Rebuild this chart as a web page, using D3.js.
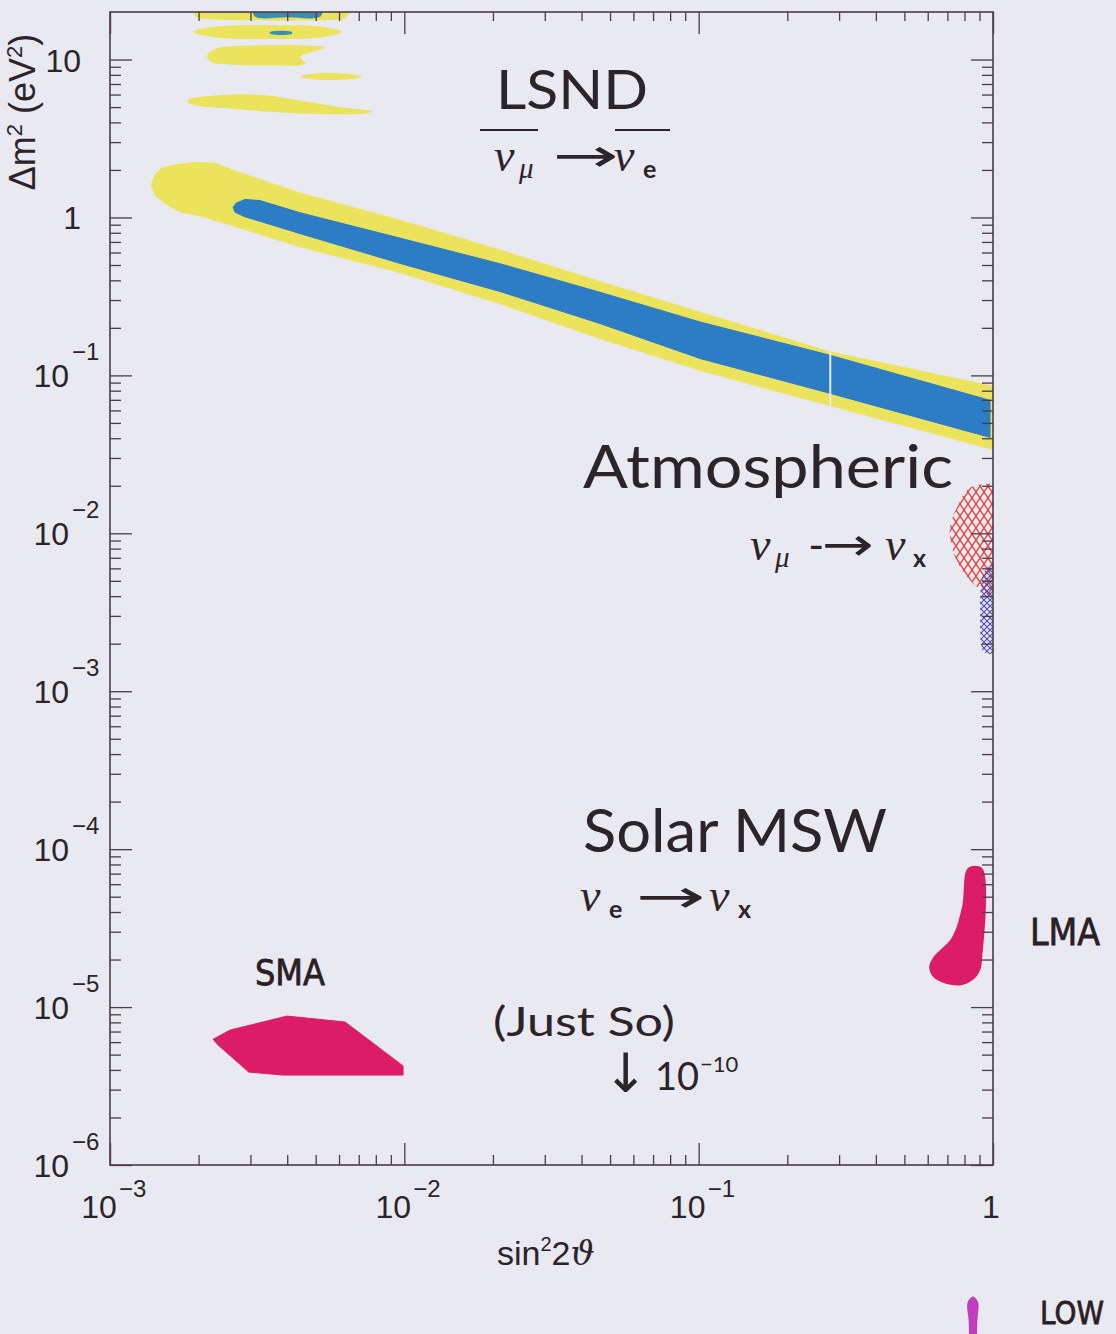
<!DOCTYPE html>
<html>
<head>
<meta charset="utf-8">
<script src="https://cdn.jsdelivr.net/npm/d3@7"></script>
<style>
body { margin: 0; background: #e9e9f1; }
</style>
</head>
<body>
<svg id="chart" width="1116" height="1334"></svg>
<script>
// ---- axis ticks ----
var xMajor = [1e-3, 1e-2, 1e-1, 1];
var xLabels = [["10", "\u22123"], ["10", "\u22122"], ["10", "\u22121"], ["1", ""]];
var yMajor = [1e-6, 1e-5, 1e-4, 1e-3, 1e-2, 1e-1, 1, 10];
var yLabels = [["10", "\u22126"], ["10", "\u22125"], ["10", "\u22124"], ["10", "\u22123"],
               ["10", "\u22122"], ["10", "\u22121"], ["1", ""], ["10", ""]];

// ---- regions, points are [sin^2 2theta, dm^2] ----
// LSND 90% CL (yellow)
var lsndOuter = [
  [1.39e-3, 1.64], [1.42e-3, 1.84], [1.50e-3, 2.04], [1.69e-3, 2.16], [1.95e-3, 2.23],
  [2.28e-3, 2.20], [2.62e-3, 1.98], [4.43e-3, 1.42], [9.67e-3, 0.957], [0.0211, 0.62],
  [0.0462, 0.39], [0.101, 0.25], [0.28, 0.140], [1.0, 0.085],
  [1.0, 0.034], [0.28, 0.0646], [0.101, 0.108], [0.0462, 0.172], [0.0211, 0.286],
  [9.67e-3, 0.449], [4.43e-3, 0.655], [2.62e-3, 0.889], [2.02e-3, 1.03], [1.73e-3, 1.09],
  [1.54e-3, 1.23], [1.43e-3, 1.38], [1.39e-3, 1.55]
];
// LSND 99% CL (blue)
var lsndInner = [
  [2.62e-3, 1.16], [2.68e-3, 1.23], [2.87e-3, 1.30], [3.23e-3, 1.28], [4.43e-3, 1.07],
  [9.67e-3, 0.74], [0.0211, 0.51], [0.0462, 0.336], [0.101, 0.218], [0.28, 0.134],
  [0.977, 0.0695],
  [0.977, 0.0405], [0.28, 0.0769], [0.101, 0.128], [0.0462, 0.213], [0.0211, 0.34],
  [9.67e-3, 0.512], [4.43e-3, 0.79], [3.23e-3, 0.946], [2.87e-3, 1.01], [2.66e-3, 1.08]
];
var lsndGap = [0.28, 0.15, 0.062];

// high dm^2 islands
var islandA = [[1.95e-3, 22], [1.96e-3, 18.6], [2.2e-3, 18.0], [3.5e-3, 17.7], [5.5e-3, 17.8], [6.3e-3, 18.4], [6.6e-3, 22]];
var islandABlue = [[3.1e-3, 22], [3.1e-3, 18.8], [4.0e-3, 18.5], [5.2e-3, 18.8], [5.2e-3, 22]];
var islandB = [[1.91e-3, 15.0], [2.3e-3, 16.2], [3.5e-3, 16.5], [5.2e-3, 16.2], [6.14e-3, 15.0],
               [5.2e-3, 13.8], [3.5e-3, 13.5], [2.3e-3, 13.8]];
var islandBBlue = [[3.5e-3, 14.95], [4.15e-3, 14.95], [4.15e-3, 14.55], [3.5e-3, 14.55]];
var islandC = [[2.14e-3, 10.6], [2.28e-3, 11.7], [3.23e-3, 12.3], [4.43e-3, 12.3], [5.38e-3, 11.9],
               [4.78e-3, 11.1], [4.43e-3, 10.4], [4.60e-3, 9.43], [3.5e-3, 9.16], [2.56e-3, 9.30], [2.19e-3, 9.71]];
var islandD = [[4.43e-3, 7.8], [5.0e-3, 8.15], [6.5e-3, 8.1], [7.18e-3, 7.8], [6.5e-3, 7.5], [5.0e-3, 7.47]];
var islandE = [[1.83e-3, 5.5], [2.56e-3, 6.0], [3.5e-3, 5.9], [4.43e-3, 5.5], [6.0e-3, 5.0], [7.77e-3, 4.69],
               [7.3e-3, 4.55], [4.43e-3, 4.55], [2.56e-3, 4.9], [1.9e-3, 5.19]];

// atmospheric
var atmRed = [[1.05, 0.021], [0.977, 0.0207], [0.836, 0.0195], [0.755, 0.0146], [0.714, 0.0109],
              [0.725, 0.00815], [0.773, 0.00609], [0.855, 0.00483], [0.94, 0.00417], [1.05, 0.0038]];
var atmBlue = [[1.05, 6.4e-3], [0.95, 6.0e-3], [0.91, 4.5e-3], [0.905, 3.0e-3], [0.91, 2.0e-3],
               [0.93, 1.77e-3], [1.05, 1.77e-3]];

// solar
var sma = [[2.24e-3, 6.26e-6], [2.56e-3, 7.15e-6], [3.99e-3, 8.77e-6], [6.29e-3, 8.04e-6], [9.9e-3, 4.24e-6],
           [9.9e-3, 3.71e-6], [3.87e-3, 3.71e-6], [2.96e-3, 3.88e-6], [2.33e-3, 5.75e-6]];
var lma = [[0.823, 7.6e-5], [0.785, 4.3e-5], [0.726, 2.77e-5], [0.627, 2.07e-5], [0.607, 1.79e-5],
           [0.627, 1.55e-5], [0.698, 1.40e-5], [0.785, 1.38e-5], [0.869, 1.53e-5], [0.904, 1.71e-5],
           [0.918, 1.98e-5], [0.918, 7.6e-5]];
var low = [[0.856, 1.47e-7], [0.89, 1.35e-7], [0.885, 1.05e-7], [0.868, 7.0e-8], [0.843, 7.0e-8],
           [0.826, 1.05e-7], [0.82, 1.35e-7]];

var svg = d3.select("#chart");
var ink = "#2b2428", axisInk = "#4b3b4b";

var x = d3.scaleLog().domain([1e-3, 1]).range([110, 993]);
var y = d3.scaleLog().domain([1e-6, 20]).range([1165, 12]);

svg.append("rect").attr("width", 1116).attr("height", 1334).attr("fill", "#e9e9f1");

var defs = svg.append("defs");
defs.append("clipPath").attr("id", "plot")
  .append("rect").attr("x", 110).attr("y", 12).attr("width", 883).attr("height", 1153);

var hatch = defs.append("pattern").attr("id", "redhatch").attr("patternUnits", "userSpaceOnUse")
  .attr("width", 8).attr("height", 12);
hatch.append("path").attr("d", "M0,12 L8,0 M0,0 L8,12")
  .attr("stroke", "#e8453c").attr("stroke-width", 1.4);
var zig = defs.append("pattern").attr("id", "bluehatch").attr("patternUnits", "userSpaceOnUse")
  .attr("width", 6).attr("height", 6);
zig.append("path").attr("d", "M0,6 L6,0 M0,0 L6,6")
  .attr("stroke", "#4a4ab8").attr("stroke-width", 1.1);

var line = d3.line().x(function(d) { return x(d[0]); }).y(function(d) { return y(d[1]); });
var smooth = d3.line().x(function(d) { return x(d[0]); }).y(function(d) { return y(d[1]); })
  .curve(d3.curveCatmullRomClosed.alpha(0.5));

var plot = svg.append("g").attr("clip-path", "url(#plot)");

var yellow = "#ece35c", blue = "#2c7cc6", teal = "#3a8fac", magenta = "#dc1c66";

[islandA, islandB, islandC, islandD, islandE].forEach(function(p) {
  plot.append("path").attr("d", smooth(p)).attr("fill", yellow);
});
[islandABlue, islandBBlue].forEach(function(p) {
  plot.append("path").attr("d", smooth(p)).attr("fill", teal);
});

plot.append("path").attr("d", line(lsndOuter) + "Z").attr("fill", yellow)
  .attr("stroke", yellow).attr("stroke-width", 1.5).attr("stroke-linejoin", "round");
plot.append("path").attr("d", line(lsndInner) + "Z").attr("fill", blue)
  .attr("stroke", blue).attr("stroke-width", 1).attr("stroke-linejoin", "round");
plot.append("line")
  .attr("x1", x(lsndGap[0])).attr("x2", x(lsndGap[0]))
  .attr("y1", y(lsndGap[1])).attr("y2", y(lsndGap[2]))
  .attr("stroke", "#e9e9f1").attr("stroke-width", 2);

plot.append("path").attr("d", smooth(atmRed)).attr("fill", "url(#redhatch)");
plot.append("path").attr("d", smooth(atmBlue)).attr("fill", "url(#bluehatch)");

plot.append("path").attr("d", line(sma) + "Z").attr("fill", magenta)
  .attr("stroke", magenta).attr("stroke-linejoin", "round");
plot.append("path").attr("d", smooth(lma)).attr("fill", magenta);
svg.append("path").attr("d", smooth(low)).attr("fill", "#c23cc0");

// ---- frame and ticks ----
function minorTicks(lo, hi, max) {
  var t = [];
  for (var e = lo; e <= hi; e++)
    for (var k = 2; k < 10; k++) {
      var v = k * Math.pow(10, e);
      if (v < max) t.push(v);
    }
  return t;
}
var xMinor = minorTicks(-3, -1, 1);
var yMinor = minorTicks(-6, 1, 19);

function styleAxis(g) {
  g.select(".domain").remove();
  g.selectAll("line").attr("stroke", axisInk).attr("stroke-width", 1.3);
}
function addAxis(axisFn, scale, vals, size, tr) {
  svg.append("g").attr("transform", tr)
    .call(axisFn(scale).tickValues(vals).tickSize(size).tickFormat(""))
    .call(styleAxis);
}
addAxis(d3.axisRight, y, yMajor, 22, "translate(110,0)");
addAxis(d3.axisRight, y, yMinor, 11, "translate(110,0)");
addAxis(d3.axisLeft, y, yMajor, 22, "translate(993,0)");
addAxis(d3.axisLeft, y, yMinor, 11, "translate(993,0)");
addAxis(d3.axisTop, x, xMajor, 22, "translate(0,1165)");
addAxis(d3.axisTop, x, xMinor, 10, "translate(0,1165)");
addAxis(d3.axisBottom, x, xMajor, 22, "translate(0,12)");
addAxis(d3.axisBottom, x, xMinor, 9, "translate(0,12)");

svg.append("rect").attr("x", 110).attr("y", 12).attr("width", 883).attr("height", 1153)
  .attr("fill", "none").attr("stroke", axisInk).attr("stroke-width", 1.6);

// ---- tick labels ----
var labels = svg.append("g").attr("font-family", "'Liberation Sans', Arial, sans-serif").attr("fill", ink);

yMajor.forEach(function(v, i) {
  var lab = yLabels[i], py = y(v);
  if (lab[1]) {
    labels.append("text").attr("x", 69).attr("y", py + 12).attr("text-anchor", "end")
      .attr("font-size", 32).text(lab[0]);
    labels.append("text").attr("x", 72).attr("y", py - 15).attr("font-size", 24).text(lab[1]);
  } else {
    labels.append("text").attr("x", 81).attr("y", py + 12).attr("text-anchor", "end")
      .attr("font-size", 32).text(lab[0]);
  }
});
xMajor.forEach(function(v, i) {
  var lab = xLabels[i], px = x(v);
  if (lab[1]) {
    labels.append("text").attr("x", px - 11).attr("y", 1218).attr("text-anchor", "middle")
      .attr("font-size", 32).text(lab[0]);
    labels.append("text").attr("x", px + 9).attr("y", 1197).attr("font-size", 24).text(lab[1]);
  } else {
    labels.append("text").attr("x", px - 2).attr("y", 1218).attr("text-anchor", "middle")
      .attr("font-size", 32).text(lab[0]);
  }
});

// axis titles
var xt = labels.append("text").attr("x", 497).attr("y", 1265).attr("font-size", 34);
xt.append("tspan").text("sin");
xt.append("tspan").attr("font-size", 20).attr("dy", -14).text("2");
xt.append("tspan").attr("dy", 14).text("2");
xt.append("tspan").attr("font-family", "'DejaVu Serif', serif").attr("font-style", "italic").text("\u03d1");

var yt = labels.append("text").attr("transform", "translate(35,112) rotate(-90)")
  .attr("text-anchor", "middle").attr("font-size", 36);
yt.append("tspan").text("\u0394m");
yt.append("tspan").attr("font-size", 22).attr("dy", -13).text("2");
yt.append("tspan").attr("dy", 13).text(" (eV");
yt.append("tspan").attr("font-size", 22).attr("dy", -13).text("2");
yt.append("tspan").attr("dy", 13).text(")");

// ---- annotations ----
var ann = svg.append("g").attr("fill", ink);
var sans = "Lato, 'Noto Sans', sans-serif";
var serif = "'Liberation Serif', 'DejaVu Serif', serif";

function big(txt, px, py, size, len) {
  ann.append("text").attr("x", px).attr("y", py).attr("font-family", sans)
    .attr("font-size", size).attr("textLength", len).attr("lengthAdjust", "spacingAndGlyphs").text(txt);
}
function nu(px, py, sub, subX, bold) {
  ann.append("text").attr("x", px).attr("y", py).attr("font-family", serif)
    .attr("font-style", "italic").attr("font-size", 46).text("\u03bd");
  ann.append("text").attr("x", subX).attr("y", py + 7).attr("font-family", bold ? sans : serif)
    .attr("font-style", bold ? "normal" : "italic").attr("font-weight", bold ? 700 : 400)
    .attr("font-size", bold ? 25 : 29).text(sub);
}
function arrow(px, py, len) {
  ann.append("text").attr("x", px).attr("y", py).attr("font-family", "'DejaVu Sans', sans-serif")
    .attr("font-size", 46).attr("textLength", len).attr("lengthAdjust", "spacingAndGlyphs").text("\u2192");
}

big("LSND", 496, 109, 54, 152);
ann.append("line").attr("x1", 480).attr("x2", 538).attr("y1", 130).attr("y2", 130).attr("stroke", ink).attr("stroke-width", 2);
ann.append("line").attr("x1", 615).attr("x2", 670).attr("y1", 130).attr("y2", 130).attr("stroke", ink).attr("stroke-width", 2);
nu(494, 171, "\u03bc", 519, false);
arrow(553, 171, 66);
nu(614, 171, "e", 643, true);

big("Atmospheric", 583, 488, 60, 370);
nu(750, 560, "\u03bc", 775, false);
ann.append("text").attr("x", 809).attr("y", 559).attr("font-family", "'DejaVu Sans', sans-serif")
  .attr("font-size", 40).text("-");
arrow(822, 560, 52);
nu(885, 560, "x", 913, true);

big("Solar MSW", 583, 852, 60, 304);
nu(580, 911, "e", 609, true);
arrow(636, 912, 70);
nu(709, 911, "x", 738, true);

big("(Just So)", 493, 1036, 40, 182);
ann.append("text").attr("x", 603).attr("y", 1092).attr("font-family", "'DejaVu Sans', sans-serif")
  .attr("font-size", 54).text("\u2193");
ann.append("text").attr("x", 655).attr("y", 1090).attr("font-family", sans).attr("font-size", 38).text("10");
ann.append("text").attr("x", 700).attr("y", 1072).attr("font-family", sans).attr("font-size", 22).text("\u221210");

// hand-written region names
var hand = svg.append("g").attr("fill", "#2a2024").attr("font-family", "'DejaVu Sans', sans-serif")
  .attr("stroke", "#2a2024").attr("stroke-width", 0.8);
hand.append("text").attr("x", 255).attr("y", 985).attr("font-size", 36).attr("textLength", 70)
  .attr("lengthAdjust", "spacingAndGlyphs").text("SMA");
hand.append("text").attr("x", 1030).attr("y", 945).attr("font-size", 38).attr("textLength", 70)
  .attr("lengthAdjust", "spacingAndGlyphs").text("LMA");
hand.append("text").attr("x", 1040).attr("y", 1324).attr("font-size", 32).attr("textLength", 64)
  .attr("lengthAdjust", "spacingAndGlyphs").text("LOW");
</script>
</body>
</html>
